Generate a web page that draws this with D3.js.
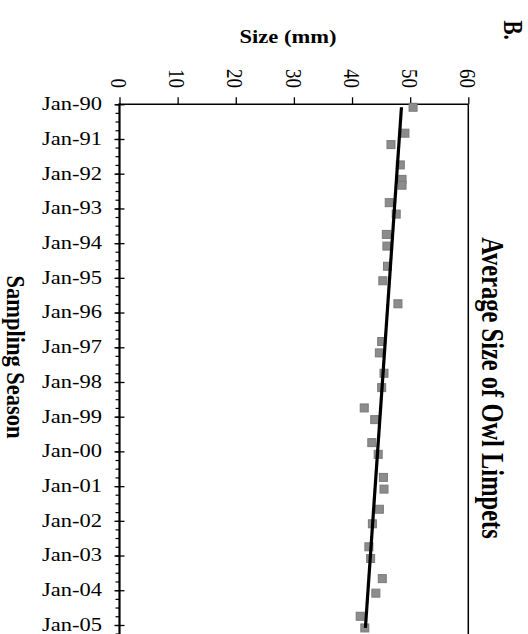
<!DOCTYPE html>
<html lang="en">
<head>
<meta charset="UTF-8">
<title>Average Size of Owl Limpets</title>
<style>
    body { margin: 0; padding: 0; background: #fff; }
    svg text { font-family: "Liberation Serif", "Times New Roman", serif; fill: #000; }
</style>
</head>
<body>
<div id="chart"></div>
<script src="https://d3js.org/d3.v7.min.js"></script>
<script>
    // sampling dates (year-month) and mean size in mm
    var sampleDates = ["1990-02", "1990-11", "1991-03", "1991-10", "1992-03", "1992-05",
        "1992-11", "1993-03", "1993-10", "1994-02", "1994-09", "1995-02", "1995-10",
        "1996-11", "1997-03", "1997-10", "1998-03", "1998-10", "1999-02", "1999-10",
        "2000-02", "2000-10", "2001-02", "2001-09", "2002-02", "2002-10", "2003-02",
        "2003-09", "2004-02", "2004-10", "2005-02"];
    var sizes = [50.5, 49.1, 46.7, 48.3, 48.6, 48.6, 46.4, 47.6, 45.9, 46.0, 46.1, 45.3, 47.9,
        45.1, 44.7, 45.5, 45.1, 42.1, 43.9, 43.4, 44.5, 45.4, 45.5, 44.7, 43.5, 42.9, 43.2,
        45.2, 44.1, 41.4, 42.2];

    // linear trend line end points
    var trendDates = ["1990-02", "2005-02"];
    var trendSizes = [48.5, 42.3];

    var sizeTicks = [0, 10, 20, 30, 40, 50, 60];
    var dateDomain = ["1990-01", "2006-01"];

    var W = 528, H = 634;
    var parse = d3.timeParse("%Y-%m");
    var stretch = 1.25;  // glyphs look wider across the page than along it

    var svg = d3.select("#chart").append("svg")
        .attr("width", W).attr("height", H);

    var x = d3.scaleLinear().domain([0, 60]).range([119.5, 468.3]);
    var yDomain = dateDomain.map(parse);
    var dayPx = (625 - 104.3) / d3.timeDay.count(parse("1990-01"), parse("2005-01"));
    var y = d3.scaleTime().domain(yDomain)
        .range([104.3, 104.3 + dayPx * d3.timeDay.count(yDomain[0], yDomain[1])]);

    var plotTop = y.range()[0], plotBottom = y.range()[1];

    // frame: top and right border
    svg.append("line").attr("x1", x(0)).attr("x2", x(60)).attr("y1", plotTop).attr("y2", plotTop)
        .attr("stroke", "#000").attr("stroke-width", 1.5);
    svg.append("line").attr("x1", x(60)).attr("x2", x(60)).attr("y1", plotTop).attr("y2", plotBottom)
        .attr("stroke", "#000").attr("stroke-width", 1.5);

    // top axis (size) with rotated labels
    var topAxis = svg.append("g")
        .attr("transform", "translate(0," + plotTop + ")")
        .call(d3.axisTop(x).tickValues(sizeTicks).tickSize(7).tickFormat(""));
    topAxis.select(".domain").remove();
    topAxis.selectAll(".tick line").attr("stroke-width", 1.3);

    svg.selectAll(".size-label")
        .data(sizeTicks)
        .enter().append("text")
        .attr("class", "size-label")
        .attr("transform", d => "translate(" + x(d) + ",88) rotate(90) scale(1," + stretch + ")")
        .attr("text-anchor", "end")
        .attr("dy", "0.35em")
        .style("font-size", "19px")
        .text(d => d);

    // left axis (dates): minor quarterly ticks, major yearly ticks across the axis
    var minor = svg.append("g")
        .attr("transform", "translate(" + x(0) + ",0)")
        .call(d3.axisLeft(y).ticks(d3.timeMonth.every(3)).tickSize(4).tickFormat(""));
    minor.select(".domain").remove();
    minor.selectAll(".tick line").attr("stroke-width", 1.2);

    var major = svg.append("g")
        .attr("transform", "translate(" + x(0) + ",0)")
        .call(d3.axisLeft(y).ticks(d3.timeYear.every(1)).tickSize(5).tickFormat(""));
    major.select(".domain").remove();
    major.selectAll(".tick line").attr("x1", 5).attr("stroke-width", 1.3);

    svg.selectAll(".date-label")
        .data(y.ticks(d3.timeYear.every(1)))
        .enter().append("text")
        .attr("class", "date-label")
        .attr("transform", d => "translate(102," + y(d) + ") scale(" + stretch + ",1)")
        .attr("text-anchor", "end")
        .attr("dy", "0.33em")
        .style("font-size", "18px")
        .text(d3.timeFormat("Jan-%y"));

    svg.append("line").attr("x1", x(0)).attr("x2", x(0)).attr("y1", plotTop - 1).attr("y2", plotBottom)
        .attr("stroke", "#000").attr("stroke-width", 2.2);

    // points
    var points = sampleDates.map((d, i) => ({ date: parse(d), size: sizes[i] }));
    var m = 8;
    svg.selectAll(".pt")
        .data(points)
        .enter().append("rect")
        .attr("class", "pt")
        .attr("x", d => x(d.size) - m / 2)
        .attr("y", d => y(d.date) - m / 2)
        .attr("width", m).attr("height", m)
        .attr("fill", "#8c8c8c")
        .attr("stroke", "#7a7a7a")
        .attr("stroke-width", 1);

    // trend line
    svg.append("line")
        .attr("x1", x(trendSizes[0])).attr("y1", y(parse(trendDates[0])))
        .attr("x2", x(trendSizes[1])).attr("y2", y(parse(trendDates[1])))
        .attr("stroke", "#000").attr("stroke-width", 3.2);

    // titles
    svg.append("text")
        .attr("transform", "translate(288,43) scale(" + stretch + ",1)")
        .attr("text-anchor", "middle")
        .style("font-size", "18px").style("font-weight", "bold")
        .text("Size (mm)");

    svg.append("text")
        .attr("transform", "translate(7,357) rotate(90) scale(1,1.1)")
        .attr("text-anchor", "middle")
        .style("font-size", "22.5px").style("font-weight", "bold")
        .text("Sampling Season");

    svg.append("text")
        .attr("transform", "translate(482,388) rotate(90) scale(1," + stretch + ")")
        .attr("text-anchor", "middle")
        .style("font-size", "24.5px").style("font-weight", "bold")
        .text("Average Size of Owl Limpets");

    svg.append("text")
        .attr("transform", "translate(504,30) rotate(90) scale(1," + stretch + ")")
        .attr("text-anchor", "middle")
        .style("font-size", "21px").style("font-weight", "bold")
        .text("B.");
</script>
</body>
</html>
